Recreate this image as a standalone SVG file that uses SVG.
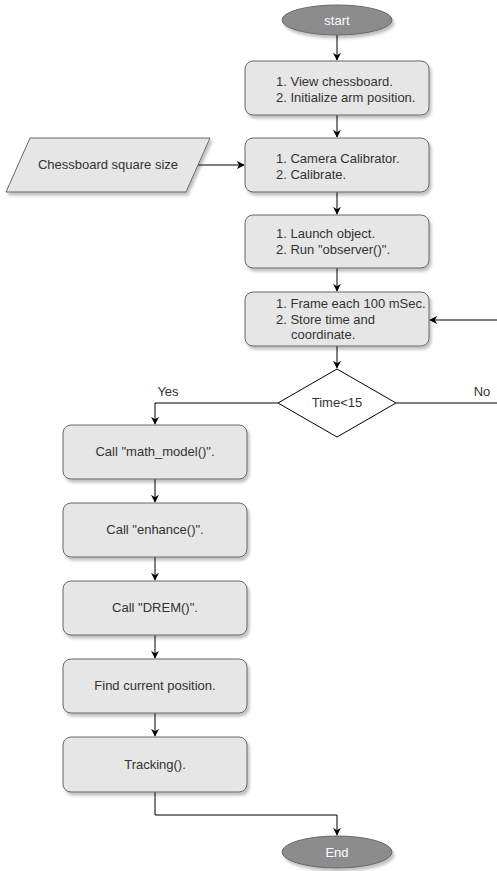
<svg xmlns="http://www.w3.org/2000/svg" width="497" height="871" viewBox="0 0 497 871">
<style>
text{font-family:"Liberation Sans",Arial,sans-serif;font-size:13px;fill:#333}
.box{fill:#e6e6e6;stroke:#666;stroke-width:1}
.term{fill:#8c8c8c;stroke:#666;stroke-width:1}
.tt{fill:#fff;text-anchor:middle}
.c{text-anchor:middle}
.ln{fill:none;stroke:#000;stroke-width:1}
</style>
<defs>
<filter id="sh" x="-10%" y="-20%" width="130%" height="160%">
<feDropShadow dx="2" dy="3" stdDeviation="1.5" flood-color="#000" flood-opacity="0.25"/>
</filter>
<marker id="ar" viewBox="0 0 10 10" refX="9" refY="5" markerWidth="8" markerHeight="8" orient="auto" markerUnits="userSpaceOnUse">
<path d="M0,0 L10,5 L0,10 L3,5 Z" fill="#000"/>
</marker>
</defs>
<g id="connectors">
<path class="ln" d="M337,35 V60" marker-end="url(#ar)"/>
<path class="ln" d="M337,115 V137" marker-end="url(#ar)"/>
<path class="ln" d="M197,165 H244" marker-end="url(#ar)"/>
<path class="ln" d="M337,192 V214" marker-end="url(#ar)"/>
<path class="ln" d="M337,268 V291" marker-end="url(#ar)"/>
<path class="ln" d="M337,346 V368" marker-end="url(#ar)"/>
<path class="ln" d="M278,403 H155 V424" marker-end="url(#ar)"/>
<path class="ln" d="M396,403 H497"/>
<path class="ln" d="M497,320 H430" marker-end="url(#ar)"/>
<path class="ln" d="M155,479 V502" marker-end="url(#ar)"/>
<path class="ln" d="M155,557 V580" marker-end="url(#ar)"/>
<path class="ln" d="M155,635 V658" marker-end="url(#ar)"/>
<path class="ln" d="M155,713 V736" marker-end="url(#ar)"/>
<path class="ln" d="M155,792 V815 H337 V835" marker-end="url(#ar)"/>
<text x="168" y="396" class="c">Yes</text>
<text x="482" y="396" class="c">No</text>
</g>
<g id="start">
<ellipse class="term" cx="337" cy="20" rx="55" ry="15" filter="url(#sh)"/>
<text x="337" y="25" class="tt">start</text>
</g>
<g id="init">
<rect class="box" x="245" y="61" width="184" height="54" rx="8" filter="url(#sh)"/>
<text x="276" y="86">1. View chessboard.</text>
<text x="276" y="102">2. Initialize arm position.</text>
</g>
<g id="square-size">
<path class="box" d="M30,138 H210 L186,192 H6 Z" filter="url(#sh)"/>
<text x="108" y="169" class="c">Chessboard square size</text>
</g>
<g id="calibrate">
<rect class="box" x="245" y="138" width="184" height="54" rx="8" filter="url(#sh)"/>
<text x="276" y="163">1. Camera Calibrator.</text>
<text x="276" y="179">2. Calibrate.</text>
</g>
<g id="launch">
<rect class="box" x="245" y="215" width="184" height="53" rx="8" filter="url(#sh)"/>
<text x="276" y="238">1. Launch object.</text>
<text x="276" y="254">2. Run "observer()".</text>
</g>
<g id="frame">
<rect class="box" x="245" y="292" width="184" height="54" rx="8" filter="url(#sh)"/>
<text x="276" y="308">1. Frame each 100 mSec.</text>
<text x="276" y="324">2. Store time and</text>
<text x="291" y="339">coordinate.</text>
</g>
<g id="decision">
<path d="M337,369 L396,403 L337,437 L278,403 Z" fill="#fff" stroke="#000" stroke-width="1"/>
<text x="337" y="407" class="c">Time&lt;15</text>
</g>
<g id="math-model">
<rect class="box" x="63" y="425" width="184" height="54" rx="8" filter="url(#sh)"/>
<text x="155" y="456" class="c">Call "math_model()".</text>
</g>
<g id="enhance">
<rect class="box" x="63" y="503" width="184" height="54" rx="8" filter="url(#sh)"/>
<text x="155" y="534" class="c">Call "enhance()".</text>
</g>
<g id="drem">
<rect class="box" x="63" y="581" width="184" height="54" rx="8" filter="url(#sh)"/>
<text x="155" y="612" class="c">Call "DREM()".</text>
</g>
<g id="position">
<rect class="box" x="63" y="659" width="184" height="54" rx="8" filter="url(#sh)"/>
<text x="155" y="690" class="c">Find current position.</text>
</g>
<g id="tracking">
<rect class="box" x="63" y="737" width="184" height="55" rx="8" filter="url(#sh)"/>
<text x="155" y="769" class="c">Tracking().</text>
</g>
<g id="end">
<ellipse class="term" cx="337" cy="852" rx="55" ry="16" filter="url(#sh)"/>
<text x="337" y="857" class="tt">End</text>
</g>
</svg>
